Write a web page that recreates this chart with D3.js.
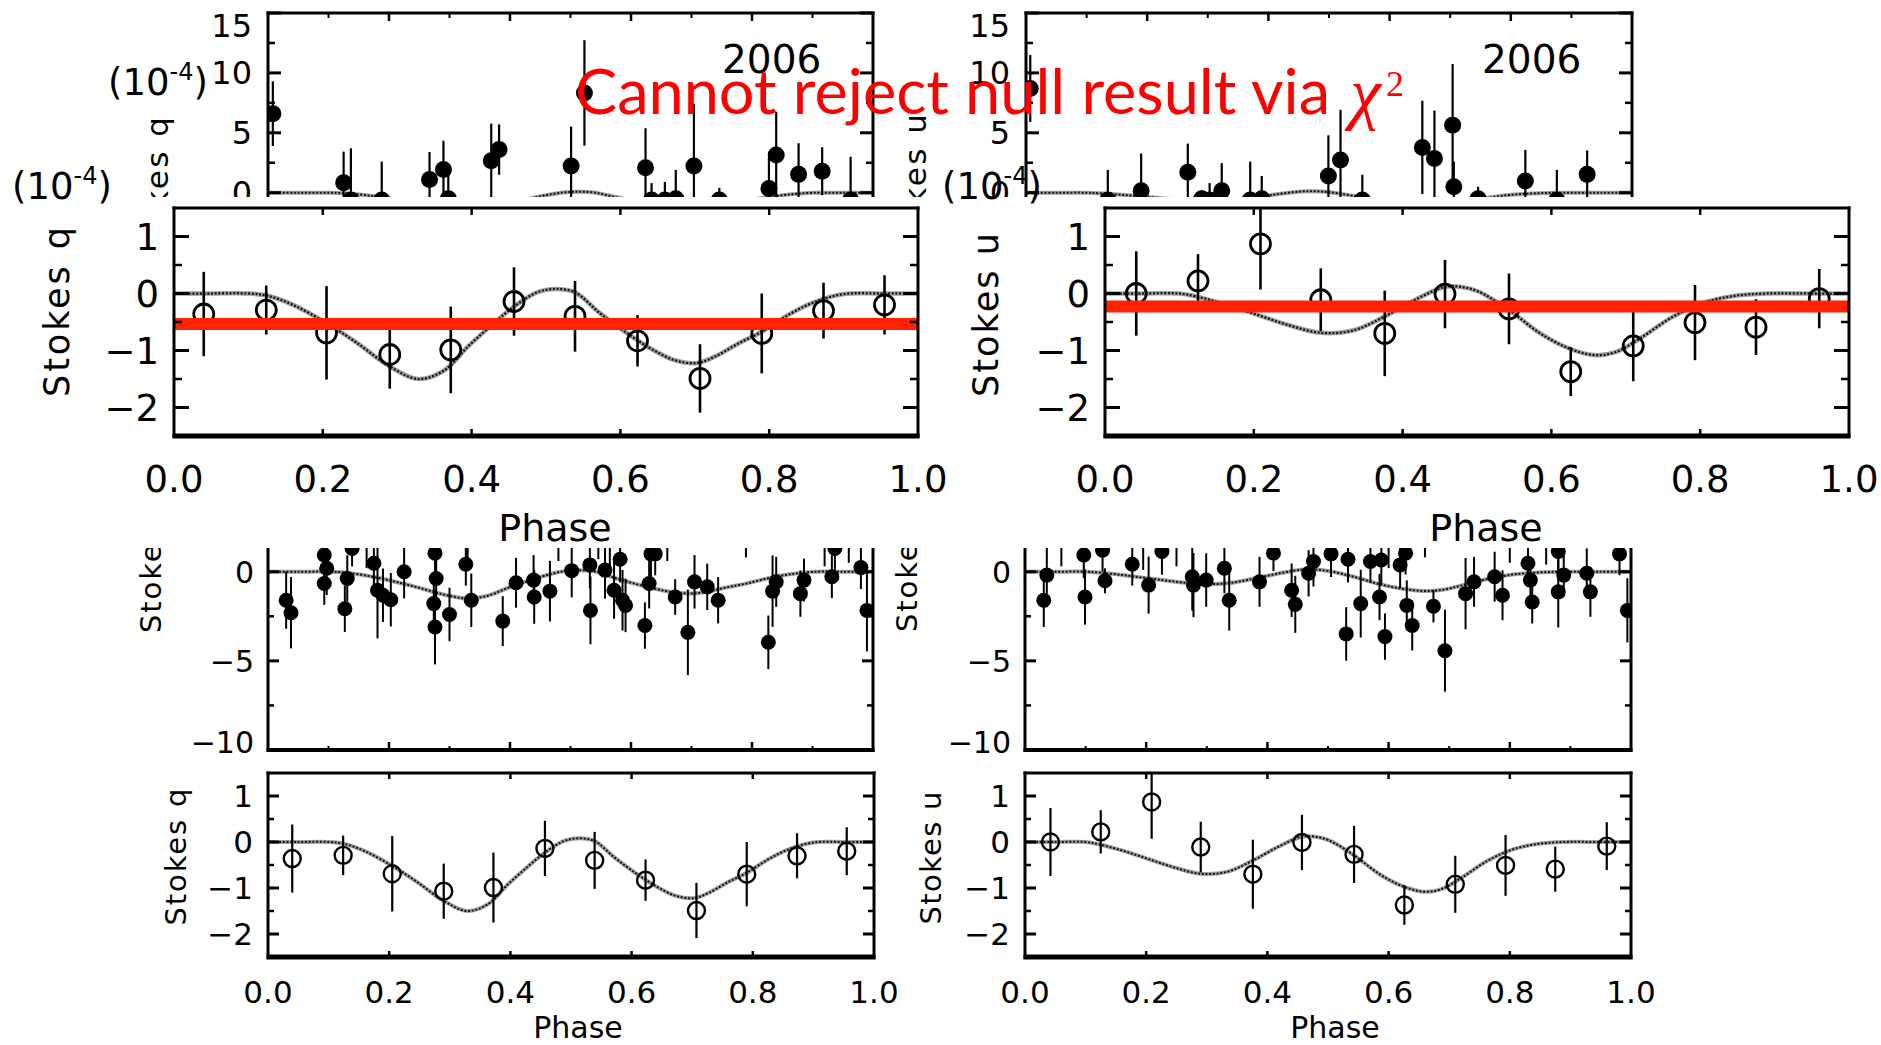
<!DOCTYPE html>
<html><head><meta charset="utf-8">
<script src="https://cdn.jsdelivr.net/npm/d3@7"></script>
<style>html,body{margin:0;padding:0;background:#fff;} svg{display:block;}</style>
</head><body>
<svg id="c" width="1881" height="1045"></svg>
<script>
// ---------------- DATA ----------------
// binned Stokes q (open circles)
const qPhase = [0.040,0.124,0.205,0.290,0.372,0.457,0.539,0.623,0.707,0.790,0.873,0.955];
const qVal   = [-0.36,-0.29,-0.69,-1.07,-0.99,-0.14,-0.40,-0.83,-1.49,-0.70,-0.30,-0.20];
const qErr   = [0.74,0.43,0.82,0.60,0.76,0.60,0.62,0.45,0.60,0.70,0.49,0.52];
// binned Stokes u (open circles)
const uPhase = [0.042,0.125,0.209,0.290,0.376,0.457,0.543,0.626,0.710,0.793,0.875,0.960];
const uVal   = [0.00,0.22,0.87,-0.11,-0.70,-0.01,-0.27,-1.37,-0.92,-0.51,-0.59,-0.09];
const uErr   = [0.74,0.47,0.80,0.55,0.75,0.60,0.62,0.43,0.62,0.66,0.49,0.52];
// model curves
const qModelPhase = [0,0.05,0.10,0.126,0.16,0.205,0.244,0.29,0.328,0.362,0.396,0.43,0.457,0.488,0.513,0.539,0.572,0.606,0.64,0.673,0.703,0.728,0.758,0.79,0.825,0.859,0.9,0.95,1.0];
const qModelVal   = [0,0,0,-0.04,-0.2,-0.52,-0.85,-1.28,-1.5,-1.36,-0.92,-0.52,-0.23,0.02,0.08,0.02,-0.34,-0.67,-0.96,-1.17,-1.22,-1.1,-0.88,-0.67,-0.38,-0.16,-0.01,0,0];
const uModelPhase = [0,0.05,0.10,0.122,0.164,0.206,0.248,0.29,0.333,0.375,0.417,0.455,0.476,0.501,0.543,0.585,0.623,0.657,0.686,0.72,0.763,0.805,0.847,0.889,0.95,1.0];
const uModelVal   = [0,0,0,-0.05,-0.2,-0.38,-0.56,-0.69,-0.65,-0.41,-0.11,0.11,0.12,0.04,-0.29,-0.70,-0.96,-1.08,-1.03,-0.78,-0.41,-0.16,-0.04,0,0,0];
// 2006 unbinned q (top left)
const q06Phase = [0.008,0.125,0.137,0.188,0.267,0.290,0.298,0.369,0.382,0.501,0.523,0.624,0.634,0.656,0.674,0.704,0.746,0.828,0.840,0.877,0.916,0.963];
const q06Val   = [6.6,0.83,-0.6,-0.6,1.1,1.94,-0.5,2.67,3.6,2.22,8.33,2.08,-0.6,-0.6,-0.5,2.22,-0.6,0.36,3.14,1.53,1.8,-0.6];
const q06Err   = [2.7,2.6,4.3,3.2,2.3,2.4,2.9,3.1,2.1,3.3,4.4,3.3,1.4,1.5,2.4,5.2,1.0,2.6,3.6,2.6,2.0,3.6];
// 2006 unbinned u (top right)
const u06Phase = [0.007,0.135,0.190,0.267,0.290,0.303,0.323,0.370,0.389,0.499,0.519,0.555,0.654,0.674,0.704,0.706,0.746,0.824,0.876,0.926];
const u06Val   = [8.7,-0.6,0.17,1.7,-0.5,-0.6,0.17,-0.6,-0.5,1.39,2.72,-0.6,3.78,2.86,5.64,0.5,-0.5,0.97,-0.6,1.53];
const u06Err   = [2.8,2.5,3.1,2.4,0.7,1.4,2.3,3.2,1.9,3.4,4.2,2.1,3.9,4.0,5.1,2.1,1.0,2.6,2.5,2.0];
// unbinned q (lower left)
const qAllPhase = [0.030,0.038,0.093,0.097,0.093,0.127,0.131,0.139,0.175,0.181,0.190,0.203,0.225,0.276,0.278,0.274,0.276,0.300,0.327,0.336,0.388,0.410,0.439,0.440,0.466,0.502,0.532,0.533,0.557,0.572,0.582,0.586,0.591,0.623,0.630,0.633,0.640,0.673,0.694,0.705,0.726,0.744,0.827,0.834,0.840,0.880,0.886,0.932,0.937,0.980,0.990,0.163,0.330,0.480,0.546,0.565,0.660,0.790,0.920,0.960];
const qAllVal   = [-1.6,-2.3,0.94,0.19,-0.66,-2.08,-0.38,1.3,0.47,-1.04,-1.32,-1.57,0.0,1.04,-0.38,-1.79,-3.1,-2.4,0.42,-1.6,-2.77,-0.62,-0.47,-1.42,-1.09,0.06,0.38,-2.17,0.09,-1.04,0.7,-1.6,-1.89,-3.02,-0.66,1.0,1.0,-1.42,-3.4,-0.57,-0.85,-1.6,-3.96,-1.09,-0.57,-1.23,-0.47,-0.28,1.3,0.23,-2.17,2.5,2.4,2.8,2.5,2.2,2.4,2.6,2.3,2.2];
const qAllErr   = [1.6,2.0,1.2,1.5,1.2,1.3,1.3,1.0,1.4,2.7,1.5,1.5,1.5,1.4,1.5,1.4,2.1,1.5,1.2,1.5,1.4,1.4,1.4,1.5,1.7,1.5,1.3,1.9,1.6,1.6,1.3,1.7,1.5,1.3,1.4,1.3,1.2,1.0,2.4,1.5,1.3,1.3,1.5,2.0,1.4,1.3,1.2,1.2,1.2,1.2,2.3,2.3,1.8,2.2,1.8,2.2,1.8,1.8,2.0,1.7];
// unbinned u (lower right)
const uAllPhase = [0.031,0.036,0.097,0.099,0.128,0.132,0.177,0.204,0.226,0.276,0.278,0.299,0.329,0.337,0.387,0.410,0.440,0.446,0.468,0.476,0.505,0.530,0.533,0.554,0.570,0.585,0.588,0.594,0.619,0.628,0.630,0.639,0.674,0.693,0.727,0.741,0.775,0.788,0.830,0.834,0.837,0.880,0.880,0.889,0.927,0.933,0.981,0.994,0.060,0.195,0.250,0.600,0.660,0.800,0.860];
const uAllVal   = [-1.6,-0.19,0.94,-1.42,1.2,-0.51,0.42,-0.75,1.13,-0.28,-0.75,-0.47,0.19,-1.6,-0.57,1.04,-1.04,-1.83,-0.09,0.57,1.0,-3.49,0.7,-1.79,0.57,-1.42,0.66,-3.64,0.38,1.04,-1.89,-3.02,-1.94,-4.43,-1.23,-0.57,-0.28,-1.32,0.47,-0.47,-1.7,1.13,-1.13,-0.19,-0.09,-1.13,1.0,-2.17,2.3,2.4,2.5,2.4,2.4,2.5,2.2];
const uAllErr   = [1.5,1.8,1.3,1.55,1.2,0.7,1.2,1.6,1.3,1.9,1.8,1.5,1.4,1.7,1.4,1.0,1.5,1.6,1.3,1.4,1.3,1.5,1.3,1.9,1.2,1.3,1.4,1.3,1.3,1.2,1.4,1.4,0.9,2.3,2.0,1.4,1.4,1.4,1.2,1.2,1.2,1.2,2.0,1.2,1.4,1.4,1.2,1.8,2.0,2.3,2.2,2.2,1.6,2.0,1.8];
// null-result levels (red bars)
const nullLevelQ = -0.535;
const nullLevelU = -0.23;
// tick labels
const phaseTicks = [0.0,0.2,0.4,0.6,0.8,1.0];
const binTicks = [-2,-1,0,1];
const allTicks = [-10,-5,0];
const topTicks = [0,5,10,15];

// ---------------- DRAWING ----------------
const W = 1881, H = 1045;
const FONT = "'DejaVu Sans', 'Liberation Sans', sans-serif";
const svg = d3.select('#c');
svg.append('rect').attr('width', W).attr('height', H).attr('fill', '#fff');
const defs = svg.append('defs');
let clipN = 0;
function clipRect(x, y, w, h) {
  const id = 'cp' + (clipN++);
  defs.append('clipPath').attr('id', id).append('rect')
    .attr('x', x).attr('y', y).attr('width', w).attr('height', h);
  return `url(#${id})`;
}
const fmt = v => (v < 0 ? '\u2212' : '') + Math.abs(v);

function drawPanel(c) {
  const x = d3.scaleLinear().domain([0, 1]).range([c.x0, c.x1]);
  const y = d3.scaleLinear().domain(c.yDom).range(c.yPx);
  const g = svg.append('g').attr('clip-path', clipRect(0, c.vis[0], W, c.vis[1] - c.vis[0]));
  const inner = g.append('g').attr('clip-path', clipRect(c.x0, c.top, c.x1 - c.x0, c.bottom - c.top));

  const line = d3.line().x(d => x(d[0])).y(d => y(d[1])).curve(d3.curveCatmullRom);
  const md = d3.zip(c.modelPhase, c.modelVal);
  inner.append('path').attr('d', line(md)).attr('fill', 'none')
    .attr('stroke', '#a0a0a0').attr('stroke-width', c.modelW);
  inner.append('path').attr('d', line(md)).attr('fill', 'none')
    .attr('stroke', '#111').attr('stroke-width', c.modelW * 0.5).attr('stroke-dasharray', '2 1.7');

  const pts = d3.zip(c.phase, c.val, c.err);
  inner.selectAll('line.eb').data(pts).join('line').attr('class', 'eb')
    .attr('x1', d => x(d[0])).attr('x2', d => x(d[0]))
    .attr('y1', d => y(d[1] - d[2])).attr('y2', d => y(d[1] + d[2]))
    .attr('stroke', '#000').attr('stroke-width', c.barW);
  inner.selectAll('circle.pt').data(pts).join('circle').attr('class', 'pt')
    .attr('cx', d => x(d[0])).attr('cy', d => y(d[1])).attr('r', c.r)
    .attr('fill', c.filled ? '#000' : 'none')
    .attr('stroke', c.filled ? 'none' : '#000').attr('stroke-width', c.circW);

  if (c.band != null) {
    inner.append('line').attr('x1', c.x0).attr('x2', c.x1)
      .attr('y1', y(c.band)).attr('y2', y(c.band))
      .attr('stroke', '#ff2200').attr('stroke-width', 12);
  }

  // ticks
  const tk = g.append('g').attr('stroke', '#000');
  const xt = (vals, len, w) => vals.forEach(v => {
    tk.append('line').attr('x1', x(v)).attr('x2', x(v)).attr('y1', c.top).attr('y2', c.top + len).attr('stroke-width', w);
    tk.append('line').attr('x1', x(v)).attr('x2', x(v)).attr('y1', c.bottom).attr('y2', c.bottom - len).attr('stroke-width', w);
  });
  const yt = (vals, len, w) => vals.forEach(v => {
    tk.append('line').attr('x1', c.x0).attr('x2', c.x0 + len).attr('y1', y(v)).attr('y2', y(v)).attr('stroke-width', w);
    tk.append('line').attr('x1', c.x1).attr('x2', c.x1 - len).attr('y1', y(v)).attr('y2', y(v)).attr('stroke-width', w);
  });
  xt(c.xMajor, c.xMajLen, 2.5);
  xt(c.xMinor, c.xMinLen, 2);
  yt(c.yMajor, c.yMajLen, 3);
  yt(c.yMinor, c.yMinLen, 2.5);

  // frame
  const fr = g.append('g').attr('stroke', '#000').attr('fill', 'none');
  fr.append('line').attr('x1', c.x0).attr('x2', c.x0).attr('y1', c.top - 1.5).attr('y2', c.bottom + 2).attr('stroke-width', 3);
  fr.append('line').attr('x1', c.x1).attr('x2', c.x1).attr('y1', c.top - 1.5).attr('y2', c.bottom + 2).attr('stroke-width', 3);
  fr.append('line').attr('x1', c.x0 - 1.5).attr('x2', c.x1 + 1.5).attr('y1', c.top).attr('y2', c.top).attr('stroke-width', 3);
  fr.append('line').attr('x1', c.x0 - 1.5).attr('x2', c.x1 + 1.5).attr('y1', c.bottom).attr('y2', c.bottom).attr('stroke-width', c.bottomW);

  // y tick labels (kept within the frame's vertical extent)
  const capH = 0.73 * c.tickFont;
  const topLim = Math.max(c.top, c.vis[0]) + capH + 1;
  g.selectAll('text.yl').data(c.yLabels).join('text').attr('class', 'yl')
    .attr('x', c.x0 - c.yLabOff)
    .attr('y', d => Math.min(c.bottom + 3, Math.max(topLim, y(d) + 0.36 * c.tickFont)))
    .attr('text-anchor', 'end').attr('font-family', FONT).attr('font-size', c.tickFont)
    .text(fmt);
  // x tick labels
  if (c.xLabBase) {
    g.selectAll('text.xl').data(phaseTicks).join('text').attr('class', 'xl')
      .attr('x', d => x(d)).attr('y', c.xLabBase)
      .attr('text-anchor', 'middle').attr('font-family', FONT).attr('font-size', c.tickFont)
      .text(d => d.toFixed(1));
    g.append('text').attr('x', (c.x0 + c.x1) / 2 + c.phaseDx).attr('y', c.phaseBase)
      .attr('text-anchor', 'middle').attr('font-family', FONT).attr('font-size', c.phaseFont)
      .text('Phase');
  }
  // y axis title
  g.append('text')
    .attr('transform', `translate(${c.labX},${c.labY}) rotate(-90)`)
    .attr('dy', '0.35em').attr('text-anchor', c.labAnchor)
    .attr('font-family', FONT).attr('font-size', c.labFont)
    .attr('textLength', c.labLen).attr('lengthAdjust', 'spacing')
    .text(c.label);
  if (c.year) {
    g.append('text').attr('x', c.year[0]).attr('y', c.year[1])
      .attr('font-family', FONT).attr('font-size', 39).text('2006');
  }
}

// ---- top small panels (2006) ----
const topCommon = {
  yDom: [0, 15], yPx: [192.7, 13], top: 13, bottom: 260, vis: [0, 197],
  xMajor: [0.2, 0.4, 0.6, 0.8], xMinor: [0.1, 0.3, 0.5, 0.7, 0.9], xMajLen: 8, xMinLen: 5,
  yMajor: topTicks, yMinor: [2.5, 7.5, 12.5], yMajLen: 13, yMinLen: 7,
  yLabels: topTicks, yLabOff: 16, tickFont: 32, xLabBase: null,
  modelW: 4, barW: 2.2, r: 8.5, filled: true, circW: 0, band: null, bottomW: 3,
  labFont: 31, labLen: 150, labAnchor: 'end'
};
drawPanel(Object.assign({}, topCommon, {
  x0: 268, x1: 873, phase: q06Phase, val: q06Val, err: q06Err,
  modelPhase: qModelPhase, modelVal: qModelVal,
  labX: 157, labY: 117, label: 'Stokes q', year: [722, 73]
}));
drawPanel(Object.assign({}, topCommon, {
  x0: 1026, x1: 1632, phase: u06Phase, val: u06Val, err: u06Err,
  modelPhase: uModelPhase, modelVal: uModelVal,
  labX: 915, labY: 114, label: 'Stokes u', year: [1482, 73]
}));

// ---- lower unbinned panels ----
const allCommon = {
  yDom: [-10, 0], yPx: [750, 571.7], top: 300, bottom: 750, vis: [548, 757],
  xMajor: [0.2, 0.4, 0.6, 0.8], xMinor: [0.1, 0.3, 0.5, 0.7, 0.9], xMajLen: 8, xMinLen: 4,
  yMajor: [-10, -5, 0, 5], yMinor: [-7.5, -2.5, 2.5], yMajLen: 11, yMinLen: 6,
  yLabels: allTicks, yLabOff: 14, tickFont: 30, xLabBase: null,
  modelW: 4, barW: 2, r: 7.5, filled: true, circW: 0, band: null, bottomW: 4,
  labFont: 29, labLen: 137, labAnchor: 'start'
};
drawPanel(Object.assign({}, allCommon, {
  x0: 268, x1: 873, phase: qAllPhase, val: qAllVal, err: qAllErr,
  modelPhase: qModelPhase, modelVal: qModelVal,
  labX: 151, labY: 633, label: 'Stokes q'
}));
drawPanel(Object.assign({}, allCommon, {
  x0: 1025, x1: 1631, phase: uAllPhase, val: uAllVal, err: uAllErr,
  modelPhase: uModelPhase, modelVal: uModelVal,
  labX: 907, labY: 632, label: 'Stokes u'
}));

// ---- bottom binned panels ----
const botCommon = {
  yDom: [-2.5, 1.5], yPx: [957, 773], top: 773, bottom: 957, vis: [757, 1045],
  xMajor: [0.2, 0.4, 0.6, 0.8], xMinor: [], xMajLen: 6, xMinLen: 0,
  yMajor: binTicks, yMinor: [-1.5, -0.5, 0.5], yMajLen: 11, yMinLen: 6,
  yLabels: binTicks, yLabOff: 15, tickFont: 31, xLabBase: 1003, phaseBase: 1038, phaseFont: 30, phaseDx: 7,
  modelW: 4, barW: 2.2, r: 8.5, filled: false, circW: 2.4, band: null, bottomW: 5,
  labFont: 29, labAnchor: 'middle'
};
drawPanel(Object.assign({}, botCommon, {
  x0: 268, x1: 874, phase: qPhase, val: qVal, err: qErr,
  modelPhase: qModelPhase, modelVal: qModelVal,
  labX: 176, labY: 857, labLen: 137, label: 'Stokes q'
}));
drawPanel(Object.assign({}, botCommon, {
  x0: 1025, x1: 1631, phase: uPhase, val: uVal, err: uErr,
  modelPhase: uModelPhase, modelVal: uModelVal,
  labX: 931, labY: 858, labLen: 133, label: 'Stokes u'
}));

// ---- middle large panels with red null-result bars ----
const midCommon = {
  yDom: [-2.5, 1.5], yPx: [436, 208], top: 208, bottom: 436, vis: [197, 548],
  xMajor: [0.2, 0.4, 0.6, 0.8], xMinor: [], xMajLen: 7, xMinLen: 0,
  yMajor: binTicks, yMinor: [-1.5, -0.5, 0.5], yMajLen: 15, yMinLen: 8,
  yLabels: binTicks, yLabOff: 15, tickFont: 37, xLabBase: 492, phaseBase: 541, phaseFont: 38, phaseDx: 9,
  modelW: 4.5, barW: 2.6, r: 10, filled: false, circW: 2.8, bottomW: 5,
  labFont: 35, labAnchor: 'middle'
};
drawPanel(Object.assign({}, midCommon, {
  x0: 174, x1: 918, phase: qPhase, val: qVal, err: qErr,
  modelPhase: qModelPhase, modelVal: qModelVal, band: nullLevelQ,
  labX: 57, labY: 312, labLen: 170, label: 'Stokes q'
}));
drawPanel(Object.assign({}, midCommon, {
  x0: 1105, x1: 1849, phase: uPhase, val: uVal, err: uErr,
  modelPhase: uModelPhase, modelVal: uModelVal, band: nullLevelU,
  labX: 986, labY: 315, labLen: 164, label: 'Stokes u'
}));

// ---- unit labels (10^-4) ----
function unitLabel(x, yb) {
  const t = svg.append('text').attr('x', x).attr('y', yb)
    .attr('font-family', FONT).attr('font-size', 37);
  t.append('tspan').text('(10');
  t.append('tspan').attr('font-size', 24).attr('dy', -15).text('-4');
  t.append('tspan').attr('dy', 15).text(')');
}
unitLabel(108, 95);
unitLabel(12, 199);
unitLabel(942, 199);

// ---- red annotation ----
const ann = svg.append('g').attr('fill', '#ff0000');
ann.append('text').attr('x', 575).attr('y', 114)
  .attr('font-family', "Lato, 'Open Sans', sans-serif").attr('font-size', 61)
  .attr('textLength', 755).attr('lengthAdjust', 'spacingAndGlyphs')
  .text('Cannot reject null result via');
ann.append('text').attr('x', 1350).attr('y', 116)
  .attr('font-family', "'Liberation Serif', 'DejaVu Serif', serif").attr('font-style', 'italic')
  .attr('font-size', 70).text('\u03c7');
ann.append('text').attr('x', 1386).attr('y', 96)
  .attr('font-family', "'Liberation Serif', 'DejaVu Serif', serif")
  .attr('font-size', 36).text('2');
</script>
</body></html>
